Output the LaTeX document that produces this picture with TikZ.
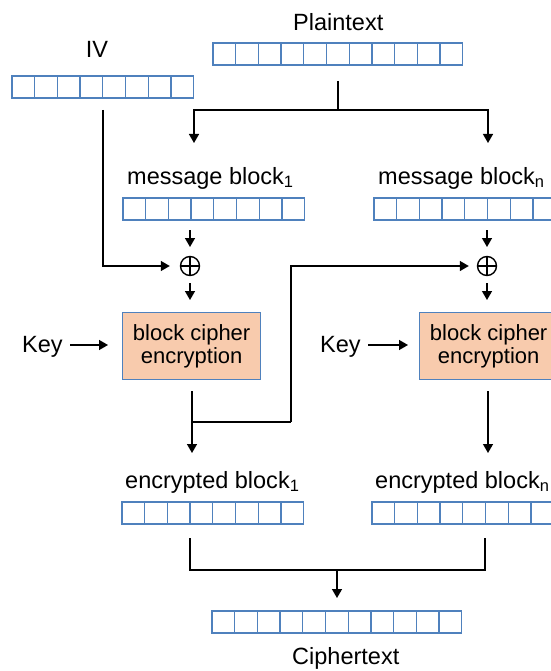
\documentclass[tikz,border=0pt]{standalone}
\usepackage{fontspec}
\setmainfont{Liberation Sans}
\usetikzlibrary{arrows.meta}
\definecolor{regblue}{RGB}{79,129,189}
\definecolor{peach}{RGB}{248,203,173}
\tikzset{
  cellline/.style={draw=regblue, line width=1.3pt},
  reg/.style={inner sep=0pt, outer sep=0pt, anchor=north west, minimum height=22pt},
  lbl/.style={font=\fontsize{23.5}{28}\selectfont, inner sep=0pt, anchor=base west},
  cipher/.style={draw=regblue, line width=1.3pt, fill=peach, anchor=north west,
    minimum width=138pt, minimum height=67pt, inner sep=0pt, align=center,
    font=\fontsize{22}{23}\selectfont},
  wire/.style={line width=1.4pt},
  flow/.style={wire, -{Triangle[width=10pt,length=9pt]}},
  xorop/.style={circle, draw, line width=1.4pt, minimum size=19pt, inner sep=0pt}
}
% a register of #4 cells: name, left x, top y, number of cells
\newcommand\cellrow[4]{%
  \node[reg, minimum width=#4*22.7pt] (#1) at (#2,#3) {};
  \foreach \k in {1,...,#4}
    \draw[cellline] ({#2+(\k-1)*22.7},#3) rectangle ++(22.7,22);
}
\newcommand\xorsign[1]{%
  \draw[wire] (#1.north) -- (#1.south) (#1.west) -- (#1.east);
}
\begin{document}
\begin{tikzpicture}[x=1pt,y=-1pt]
\useasboundingbox (0,0) rectangle (550,671);

% registers
\cellrow{iv}{12}{76}{8}
\cellrow{pt}{213}{43}{11}
\cellrow{m1}{123}{198}{8}
\cellrow{mn}{374}{198}{8}
\cellrow{c1}{122}{502}{8}
\cellrow{cn}{372}{502}{8}
\cellrow{ct}{212}{611}{11}

% labels
\node[lbl, anchor=base] (ivl) at (97,58) {IV};
\node[lbl] (ptl) at (293,31) {Plaintext};
\node[lbl] (m1l) at (127,184) {message block\textsubscript{1}};
\node[lbl] (mnl) at (378,184) {message block\textsubscript{n}};
\node[lbl] (c1l) at (125,488) {encrypted block\textsubscript{1}};
\node[lbl] (cnl) at (375,488) {encrypted block\textsubscript{n}};
\node[lbl] (ctl) at (292,664) {Ciphertext};
\node[lbl] (k1) at (22,352) {Key};
\node[lbl] (k2) at (320,352) {Key};

% cipher boxes
\node[cipher] (b1) at (122,312) {block cipher\\encryption};
\node[cipher] (b2) at (419,312) {block cipher\\encryption};

% xor operators
\node[xorop] (x1) at (190,266) {};
\node[xorop] (x2) at (487,266) {};
\xorsign{x1}
\xorsign{x2}

% connector end points
\coordinate (ptstem) at (338,81);
\coordinate (split) at (338,110);
\coordinate (m1in) at (194,143);
\coordinate (mnin) at (488,143);
\coordinate (ivstem) at (103,110);
\coordinate (m1a) at (190,230);
\coordinate (m1b) at (190,247);
\coordinate (x1a) at (190,283);
\coordinate (x1b) at (190,300);
\coordinate (mna) at (487,230);
\coordinate (mnb) at (487,247);
\coordinate (x2a) at (487,283);
\coordinate (x2b) at (487,300);
\coordinate (k1a) at (70,345);
\coordinate (k1b) at (108,345);
\coordinate (k2a) at (368,345);
\coordinate (k2b) at (408,345);
\coordinate (b1a) at (192,391);
\coordinate (b1b) at (192,453);
\coordinate (fb) at (192,422);
\coordinate (fbup) at (291,422);
\coordinate (b2a) at (488,391);
\coordinate (b2b) at (488,453);
\coordinate (c1a) at (190,538);
\coordinate (cna) at (485,538);
\coordinate (join) at (337,570);
\coordinate (ctin) at (337,598);

% plaintext split
\draw[wire] (ptstem) -- (split);
\draw[flow] (split) -| (m1in);
\draw[flow] (split) -| (mnin);

% chain 1
\draw[flow] (ivstem) |- ([xshift=-10pt]x1.west);
\draw[flow] (m1a) -- (m1b);
\draw[flow] (x1a) -- (x1b);
\draw[flow] (k1a) -- (k1b);
\draw[flow] (b1a) -- (b1b);

% feedback into chain n
\draw[wire] (fb) -- (fbup);
\draw[flow] (fbup) |- ([xshift=-8pt]x2.west);

% chain n
\draw[flow] (mna) -- (mnb);
\draw[flow] (x2a) -- (x2b);
\draw[flow] (k2a) -- (k2b);
\draw[flow] (b2a) -- (b2b);

% ciphertext join
\draw[wire] (c1a) |- (join) -| (cna);
\draw[flow] (join) -- (ctin);
\end{tikzpicture}
\end{document}
